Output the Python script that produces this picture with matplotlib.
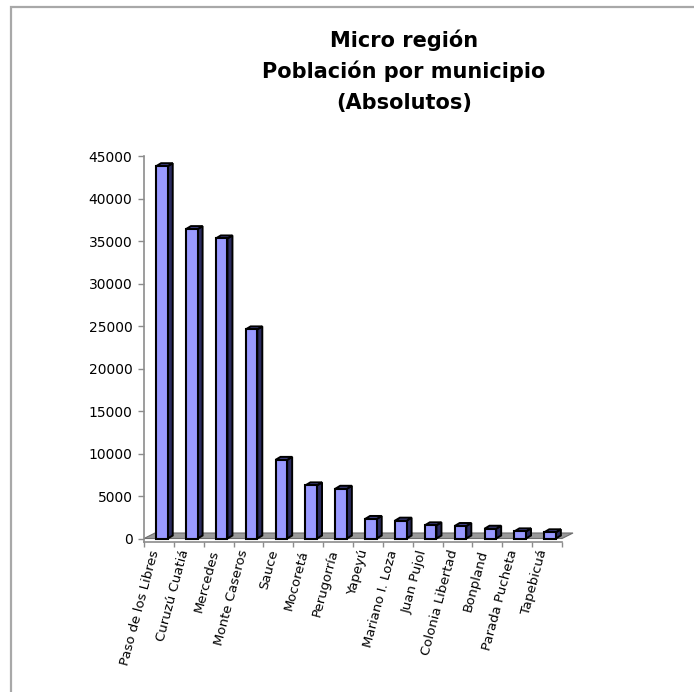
import numpy as np
import matplotlib
matplotlib.use("Agg")
import matplotlib.pyplot as plt
from matplotlib.patches import Polygon, Rectangle
from matplotlib.transforms import ScaledTranslation

municipios = ["Paso de los Libres", "Curuzú Cuatiá", "Mercedes", "Monte Caseros",
              "Sauce", "Mocoretá", "Perugorría", "Yapeyú", "Mariano I. Loza",
              "Juan Pujol", "Colonia Libertad", "Bonpland", "Parada Pucheta", "Tapebicuá"]
poblacion = [43800, 36400, 35300, 24600, 9250, 6250, 5850,
             2300, 2100, 1550, 1470, 1150, 840, 730]
y_ticks = list(range(0, 45001, 5000))
titulo = ["Micro región", "Población por municipio", "(Absolutos)"]

plt.rcParams['font.family'] = ['DejaVu Sans']

W, H = 694, 692
fig = plt.figure(figsize=(W / 100, H / 100), dpi=100)

# plot area in pixels
x0, x1 = 144, 562
ytop, ybot = 156, 541.7
ax = fig.add_axes([x0 / W, 1 - ybot / H, (x1 - x0) / W, (ybot - ytop) / H])
ax.set_facecolor('none')

n = len(municipios)
ymin = -376
ax.set_xlim(-0.5, n - 0.5)
ax.set_ylim(ymin, 45000)

# one pixel expressed in data units
px_x = n / (x1 - x0)
px_y = (45000 - ymin) / (ybot - ytop)

# grey floor under the columns
fdx, fdy = 11 * px_x, 5.5 * px_y
floor = Polygon([(-0.5, 0), (n - 0.5, 0), (n - 0.5 + fdx, fdy), (-0.5 + fdx, fdy)],
                closed=True, facecolor='#9a9a9a', edgecolor='#6e6e6e', lw=0.8,
                zorder=1, clip_on=False)
ax.add_patch(floor)

# columns: front face + side and top faces offset for depth
bar_x = np.arange(n) + 0.1
bar_w = 0.39
ddx, ddy = 5 * px_x, 3 * px_y
for x, v in zip(bar_x, poblacion):
    l, r = x - bar_w / 2, x + bar_w / 2
    side = Polygon([(r, 0), (r + ddx, ddy), (r + ddx, v + ddy), (r, v)], closed=True,
                   facecolor='#2b2b60', edgecolor='black', lw=1.4, zorder=2,
                   clip_on=False, joinstyle='miter')
    top = Polygon([(l, v), (l + ddx, v + ddy), (r + ddx, v + ddy), (r, v)], closed=True,
                  facecolor='#44448c', edgecolor='black', lw=1.4, zorder=2,
                  clip_on=False, joinstyle='miter')
    ax.add_patch(side)
    ax.add_patch(top)
ax.bar(bar_x, poblacion, width=bar_w, color='#9999ff', edgecolor='black',
       lw=1.5, zorder=3, clip_on=False)

for s in ['top', 'right']:
    ax.spines[s].set_visible(False)
for s in ['left', 'bottom']:
    ax.spines[s].set_color('#8c8c8c')
    ax.spines[s].set_linewidth(1.2)

ax.set_yticks(y_ticks)
ax.set_yticklabels([str(t) for t in y_ticks])
ax.tick_params(axis='y', length=4.3, width=1, color='#8c8c8c', pad=4,
               labelsize=10, labelcolor='black')

ax.set_xticks(np.arange(n))
ax.set_xticks(np.arange(n + 1) - 0.5, minor=True)
ax.tick_params(axis='x', which='major', length=0, pad=6, labelsize=9.5)
ax.tick_params(axis='x', which='minor', length=3.8, width=1, color='#8c8c8c')
ax.set_xticklabels(municipios, rotation=75, ha='right', va='center',
                   rotation_mode='anchor')
shift = ScaledTranslation(-4 / 100, 0, fig.dpi_scale_trans)
for lbl in ax.get_xticklabels():
    lbl.set_transform(lbl.get_transform() + shift)

# title, three centred lines
for txt, yb in zip(titulo, [47, 78, 109]):
    fig.text(404 / W, 1 - yb / H, txt, ha='center', va='baseline',
             fontsize=15, fontweight='bold')

# chart border (top and left edges visible)
fig.add_artist(Rectangle((11 / W, -0.1), 1.2, 1 - 7 / H + 0.1, transform=fig.transFigure,
                         fill=False, edgecolor='#a8a8a8', lw=1.6))

fig.savefig('out.png', dpi=100)
